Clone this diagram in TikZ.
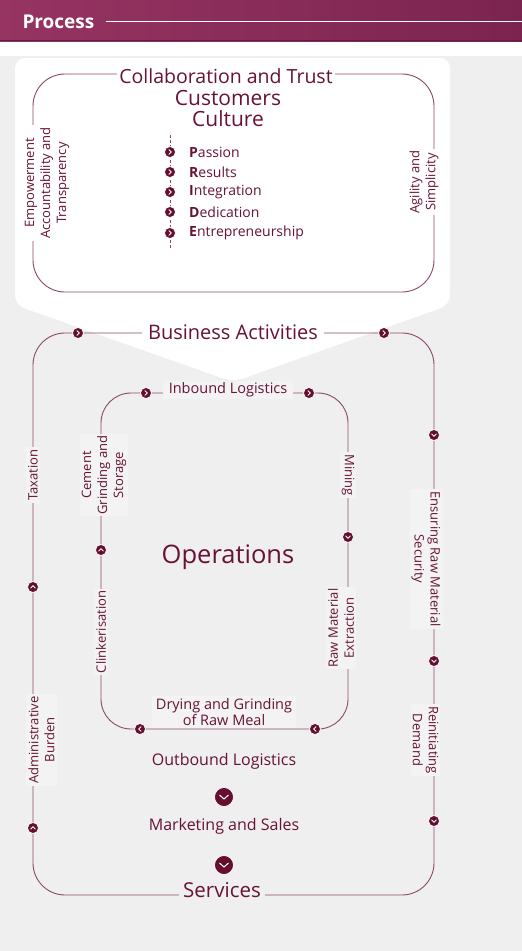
\documentclass[tikz,border=0pt]{standalone}
\usepackage{fontspec}
\setmainfont{Open Sans}
\usetikzlibrary{calc}
\definecolor{wine}{RGB}{104,18,54}
\definecolor{wineline}{RGB}{140,72,106}
\definecolor{winedot}{RGB}{100,14,48}
\definecolor{hdrL}{RGB}{150,52,98}
\definecolor{hdrR}{RGB}{124,36,80}
\definecolor{panel}{RGB}{239,239,239}
\definecolor{panelhi}{RGB}{243,243,243}

\begin{document}
\begin{tikzpicture}[x=1pt,y=-1pt]
    % `lbl' is used for the texts sitting on a loop (fill breaks the line).
    % `chev..' are the round bullets, the letter tells where the chevron points.
    \tikzstyle{lbl} = [fill=panelhi,text=wine,inner sep=2pt,align=center,font=\fontsize{13}{16}\selectfont]
    \tikzstyle{lblh} = [lbl,font=\fontsize{14.5}{16}\selectfont]
    \tikzstyle{lblw} = [lbl,fill=white]
    \tikzstyle{loopline} = [draw=wineline,line width=0.9pt]
    \tikzstyle{dot} = [circle,fill=winedot,draw=white,line width=0.7pt,minimum size=11pt,inner sep=0pt]
    \tikzstyle{bigdot} = [dot,minimum size=19pt]
    \tikzstyle{chevR} = [dot,path picture={
\draw[white,line width=0.9pt] ([shift={(-1.2pt,2.4pt)}]path picture bounding box.center) -- ++(2.4pt,-2.4pt) -- ++(-2.4pt,-2.4pt);}]
    \tikzstyle{chevL} = [dot,path picture={
\draw[white,line width=0.9pt] ([shift={(1.2pt,2.4pt)}]path picture bounding box.center) -- ++(-2.4pt,-2.4pt) -- ++(2.4pt,-2.4pt);}]
    \tikzstyle{chevD} = [dot,path picture={
\draw[white,line width=0.9pt] ([shift={(-2.4pt,1.2pt)}]path picture bounding box.center) -- ++(2.4pt,-2.4pt) -- ++(2.4pt,2.4pt);}]
    \tikzstyle{chevU} = [dot,path picture={
\draw[white,line width=0.9pt] ([shift={(-2.4pt,-1.2pt)}]path picture bounding box.center) -- ++(2.4pt,2.4pt) -- ++(2.4pt,-2.4pt);}]
    \tikzstyle{chevDbig} = [bigdot,path picture={
\draw[white,line width=1pt] ([shift={(-4.5pt,2pt)}]path picture bounding box.center) -- ++(4.5pt,-4pt) -- ++(4.5pt,4pt);}]
    %
    \useasboundingbox (0,0) rectangle (522,951);
    \fill[panel] (0,56) rectangle (522,951);
    % header band
    \shade[left color=hdrL,right color=hdrR] (0,0) rectangle (522,41);
    \draw[hdrR!80!black,line width=1pt] (0,40.5) -- (522,40.5);
    \node[anchor=west,text=white,font=\fontsize{19}{21}\selectfont\bfseries] (proc) at (19,22) {Process};
    \coordinate (hdrend) at (522,21);
    \draw[white,line width=1pt] ([xshift=8pt]proc.east |- hdrend) -- (hdrend);
    % white callout
    \fill[white,rounded corners=10pt] (15,58) -- (450,58) -- (450,305) -- (233,382) -- (15,305) -- cycle;

    % values frame
    \draw[loopline,rounded corners=32pt] (33,74) rectangle (434,292);
    \node[lblw,font=\fontsize{19.5}{20}\selectfont] (collab) at (226,76) {Collaboration and Trust};
    \node[text=wine,font=\fontsize{21}{22}\selectfont] (cust) at (228,98) {Customers};
    \node[text=wine,font=\fontsize{21}{22}\selectfont] (cult) at (228,119) {Culture};
    \node[lblw,rotate=90] (empow) at (47,183) {Empowerment\\Accountability and\\Transparency};
    \node[lblw,rotate=90] (agile) at (424,182) {Agility and\\Simplicity};
    \coordinate (ltop) at (170,135);
    \coordinate (lbot) at (170,250);
    \draw[wineline,dashed,dash pattern=on 3pt off 2pt,line width=0.8pt] (ltop) -- (lbot);
    \foreach \y/\w [count=\i] in {152/\textbf{P}assion,172/\textbf{R}esults,192/\textbf{I}ntegration,212/\textbf{D}edication,233/\textbf{E}ntrepreneurship}{
      \node[chevR] (v\i) at (170,\y) {};
      \node[anchor=west,text=wine,font=\fontsize{14}{16}\selectfont,inner sep=0pt] (vt\i) at (189,\y) {\w};
    }

    % business activities loop
    \draw[loopline,rounded corners=32pt] (33,333) rectangle (434,895);
    \node[lbl,fill=white,font=\fontsize{20}{22}\selectfont,inner xsep=6pt] (biz) at (233,332) {Business Activities};
    \node[lbl,rotate=90] (tax) at (33,475) {Taxation};
    \node[lbl,rotate=90] (admin) at (41.5,740) {Administrative\\Burden};
    \node[lbl,rotate=-90] (ensure) at (426,559) {Ensuring Raw Material\\Security};
    \node[lbl,rotate=-90] (reinit) at (425.5,740) {Reinitiating\\Demand};
    \node[lbl,fill=panel,font=\fontsize{20.5}{22}\selectfont,inner xsep=4pt] (serv) at (222,890) {Services};
    \node[chevR] (b1) at (78,333) {};
    \node[chevR] (b2) at (384,333) {};
    \node[chevD] (b3) at (434,435) {};
    \node[chevD] (b4) at (434,661) {};
    \node[chevD] (b5) at (434,821) {};
    \node[chevU] (b6) at (33,828) {};
    \node[chevU] (b7) at (33,587) {};

    % operations loop
    \draw[loopline,rounded corners=30pt] (101,393) rectangle (348,729);
    \node[lblh,inner xsep=6pt] (inbound) at (228,390) {Inbound Logistics};
    \node[lbl,rotate=-90] (mining) at (348,475) {Mining};
    \node[lbl,rotate=90] (rawmat) at (341,628) {Raw Material\\Extraction};
    \node[lblh,inner xsep=4pt] (drying) at (224,712) {Drying and Grinding\\of Raw Meal};
    \node[lbl,rotate=90] (clinker) at (101,632) {Clinkerisation};
    \node[lbl,rotate=90] (cement) at (104,475) {Cement\\Grinding and\\Storage};
    \node[chevR] (o1) at (146,393) {};
    \node[chevR] (o2) at (309,393) {};
    \node[chevD] (o3) at (348,537) {};
    \node[chevL] (o4) at (315,729) {};
    \node[chevL] (o5) at (140,729) {};
    \node[chevU] (o6) at (101,550) {};
    \node[text=wine,font=\fontsize{25.5}{28}\selectfont] (ops) at (228,557) {Operations};

    % downstream
    \node[text=wine,font=\fontsize{16}{18}\selectfont] (outb) at (224,761) {Outbound Logistics};
    \node[chevDbig] (d1) at (224,797) {};
    \node[text=wine,font=\fontsize{16}{18}\selectfont] (mkt) at (224,826) {Marketing and Sales};
    \node[chevDbig] (d2) at (224,865) {};
\end{tikzpicture}
\end{document}
